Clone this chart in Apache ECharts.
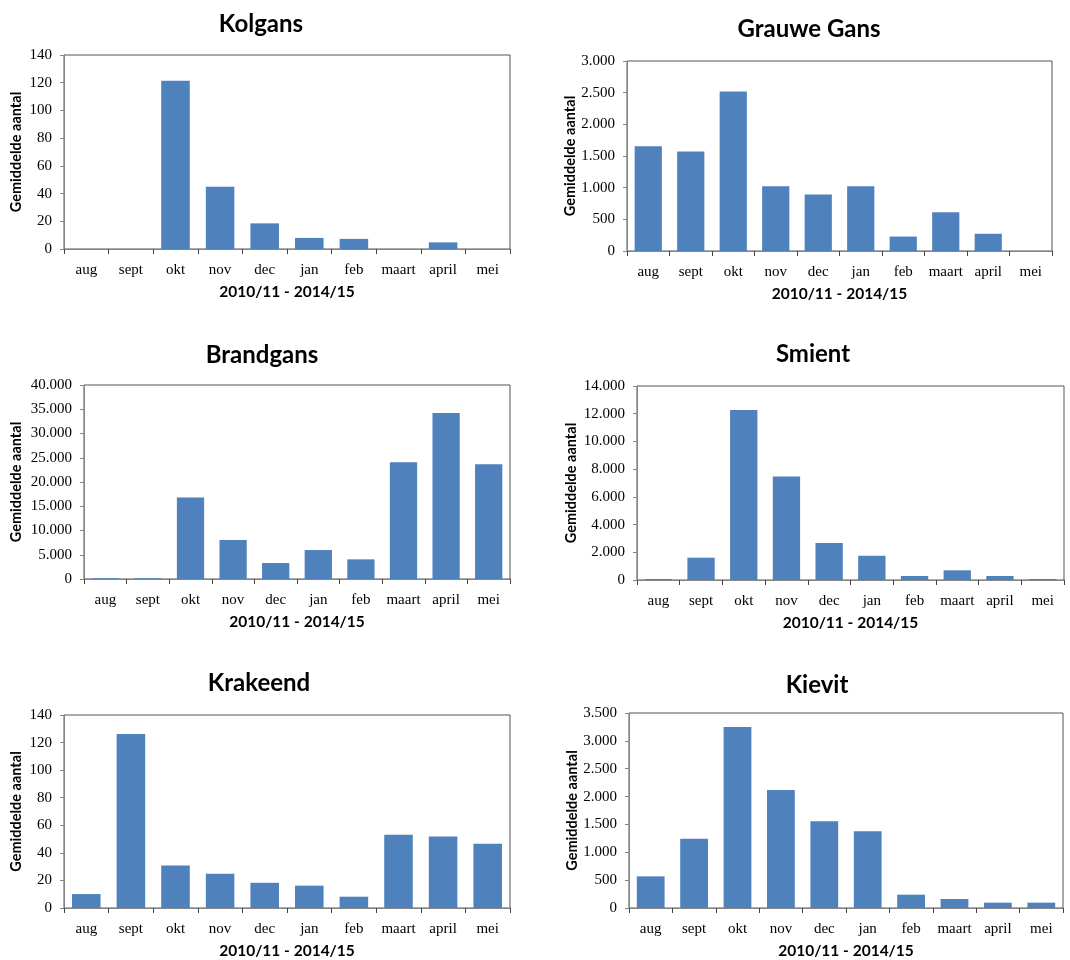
<!DOCTYPE html>
<html>
<head>
<meta charset="utf-8">
<script src="https://cdn.jsdelivr.net/npm/echarts@6/dist/echarts.min.js"></script>
<style>
html,body{margin:0;padding:0;background:#fff;}
#chart{width:1070px;height:960px;}
</style>
</head>
<body>
<div id="chart"></div>
<script>
// ---- data ----
var months = ['aug','sept','okt','nov','dec','jan','feb','maart','april','mei'];
var titles = ['Kolgans','Grauwe Gans','Brandgans','Smient','Krakeend','Kievit'];
var kolgans   = [0, 0, 121.5, 45, 18.5, 8, 7.3, 0, 4.8, 0];
var grauweGans= [1655, 1570, 2520, 1024, 893, 1024, 228, 610, 272, 0];
var brandgans = [150, 150, 16800, 8030, 3300, 5970, 4050, 24080, 34240, 23670];
var smient    = [70, 1610, 12270, 7470, 2665, 1750, 290, 700, 290, 75];
var krakeend  = [10.1, 126.3, 30.9, 24.9, 18.3, 16.2, 8.2, 53.1, 51.9, 46.6];
var kievit    = [568, 1244, 3249, 2118, 1556, 1376, 239, 162, 96, 96];
var yMax      = [140, 3000, 40000, 14000, 140, 3500];
var yStep     = [20, 500, 5000, 2000, 20, 500];
var xAxisTitle = '2010/11 - 2014/15';
var yAxisTitle = 'Gemiddelde aantal';

var seriesData = [kolgans, grauweGans, brandgans, smient, krakeend, kievit];

// ---- layout ----
var grids = [
  {left: 64,  top: 55,  width: 446, height: 194},
  {left: 627, top: 61,  width: 425, height: 190},
  {left: 84,  top: 385, width: 426, height: 194},
  {left: 637, top: 386, width: 427, height: 194},
  {left: 64,  top: 715, width: 446, height: 193},
  {left: 629, top: 713, width: 434, height: 196}
];
var titlePos = [
  {x: 256, y: 7}, {x: 804, y: 12}, {x: 257, y: 338},
  {x: 808, y: 337}, {x: 254, y: 666}, {x: 812, y: 668}
];
var yNameGap = [40, 48, 60, 58, 40, 49];

function fmt(v){
  return String(v).replace(/\B(?=(\d{3})+(?!\d))/g, '.');
}

var serifFont = '"Liberation Serif", "DejaVu Serif", serif';
var sansFont = 'Lato, "Open Sans", sans-serif';
var axisGray = '#868686';

var option = {
  animation: false,
  backgroundColor: '#ffffff',
  title: [],
  grid: [],
  xAxis: [],
  yAxis: [],
  series: []
};

for (var i = 0; i < 6; i++) {
  option.title.push({
    text: titles[i],
    left: titlePos[i].x,
    top: titlePos[i].y,
    textAlign: 'center',
    textStyle: {fontFamily: sansFont, fontSize: 24, fontWeight: 'bold', color: '#000'}
  });
  option.grid.push({
    left: grids[i].left, top: grids[i].top,
    width: grids[i].width, height: grids[i].height,
    show: true, borderColor: '#555', borderWidth: 1,
    backgroundColor: 'transparent', containLabel: false
  });
  option.xAxis.push({
    type: 'category',
    gridIndex: i,
    data: months,
    boundaryGap: true,
    name: xAxisTitle,
    nameLocation: 'middle',
    nameGap: 35,
    nameTextStyle: {fontFamily: sansFont, fontSize: 15.5, fontWeight: 'bold', color: '#000'},
    axisLine: {show: true, lineStyle: {color: axisGray, width: 1}},
    axisTick: {show: true, length: 5, inside: false, lineStyle: {color: '#444'}},
    axisLabel: {fontFamily: serifFont, fontSize: 15, color: '#000', margin: 14, interval: 0},
    splitLine: {show: false}
  });
  option.yAxis.push({
    type: 'value',
    gridIndex: i,
    min: 0,
    max: yMax[i],
    interval: yStep[i],
    name: yAxisTitle,
    nameLocation: 'middle',
    nameGap: yNameGap[i],
    nameRotate: 90,
    nameTextStyle: {fontFamily: sansFont, fontSize: 14.5, fontWeight: 'bold', color: '#000'},
    axisLine: {show: true, lineStyle: {color: axisGray, width: 1}},
    axisTick: {show: true, length: 4, inside: false, lineStyle: {color: axisGray}},
    axisLabel: {fontFamily: serifFont, fontSize: 15, color: '#000', margin: 12, formatter: fmt},
    splitLine: {show: false}
  });
  option.series.push({
    type: 'bar',
    xAxisIndex: i,
    yAxisIndex: i,
    data: seriesData[i],
    barCategoryGap: '36%',
    itemStyle: {color: '#4F81BD'}
  });
}

var chart = echarts.init(document.getElementById('chart'), null, {renderer: 'canvas'});
chart.setOption(option);
</script>
</body>
</html>
